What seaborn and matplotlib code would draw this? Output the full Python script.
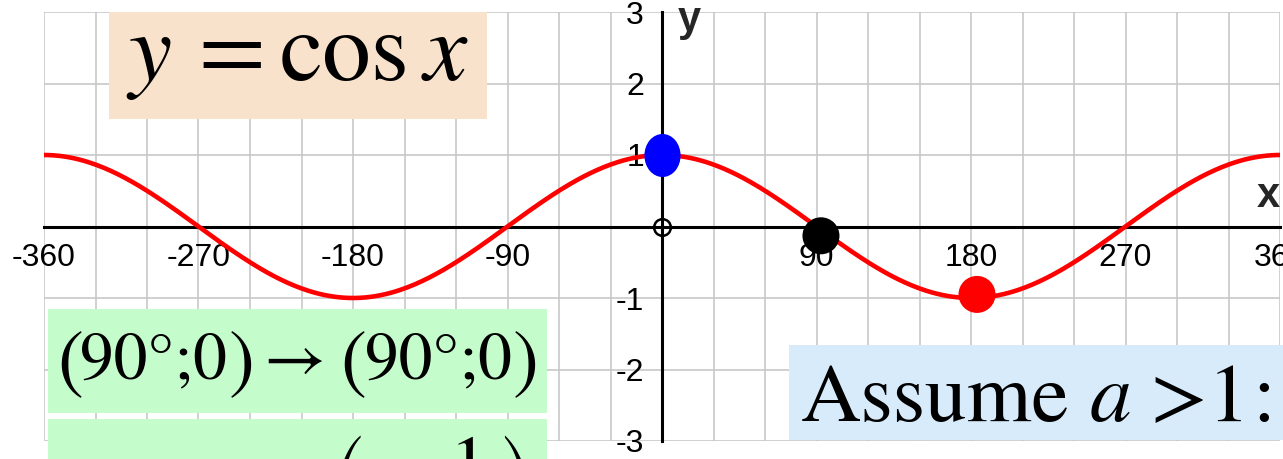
import numpy as np
import pandas as pd
import matplotlib
matplotlib.use("Agg")
import matplotlib.pyplot as plt
import seaborn as sns
from matplotlib.markers import MarkerStyle
from matplotlib.transforms import Affine2D
from matplotlib.patches import Rectangle

# ---- data ----
x_ticks = list(range(-360, 361, 30))
x_tick_labels = ["-360", "", "", "-270", "", "", "-180", "", "", "-90", "", "", "",
                 "", "", "90", "", "", "180", "", "", "270", "", "", "360"]
y_ticks = [-3, -2, -1, 0, 1, 2, 3]
y_tick_labels = ["-3", "-2", "-1", "", "1", "2", "3"]

# graph of y = cos x (degrees)
curve_x = np.linspace(-360, 360, 721)
curve_y = np.cos(np.radians(curve_x))

# highlighted points
blue_x, blue_y = [0], [1.0]
dot_x = [92.6, 183.5]
dot_y = [-0.13, -0.95]
dot_colors = ["black", "red"]

point_text = "90°;0"
box2_left = "(0°;1)→"
box2_right = r"$\left(0^{\circ}{;}\!\dfrac{1}{a}\right)$"

# ---- style ----
sns.set_theme(style="whitegrid")
plt.rcParams["font.family"] = ["Liberation Sans", "DejaVu Sans"]
plt.rcParams["mathtext.fontset"] = "stix"
SERIF = ["STIXGeneral", "DejaVu Serif"]

W, H = 1283, 459
fig = plt.figure(figsize=(W / 100, H / 100), dpi=100)
ax = fig.add_axes([44 / W, 18 / H, 1236 / W, 429 / H])
ax.set_facecolor("white")

ax.set_xlim(-360, 360)
ax.set_ylim(-3, 3)
ax.set_xticks(x_ticks)
ax.set_xticklabels(x_tick_labels)
ax.set_yticks(y_ticks)
ax.set_yticklabels(y_tick_labels)

ax.grid(True, color="#c8c8c8", linewidth=1.2)
for gl in ax.get_xgridlines() + ax.get_ygridlines():
    gl.set_clip_on(False)

for s in ["top", "right"]:
    ax.spines[s].set_visible(False)
for s in ["left", "bottom"]:
    ax.spines[s].set_position("zero")
    ax.spines[s].set_color("black")
    ax.spines[s].set_linewidth(2.2)
    ax.spines[s].set_zorder(2.5)

ax.tick_params(axis="x", direction="in", length=4, width=1.8, color="black",
               pad=12, labelsize=23, labelcolor="black")
ax.tick_params(axis="y", direction="in", length=1.5, width=1.8, color="black",
               pad=13, labelsize=23, labelcolor="black")

# curve
sns.lineplot(x=curve_x, y=curve_y, color="red", linewidth=3.3, ax=ax, zorder=3)

# origin marker
ax.plot([0], [0], marker="o", ms=12, mfc="none", mec="black", mew=1.8, zorder=4)

# points
sns.scatterplot(x=dot_x, y=dot_y, hue=dot_colors, palette={"black": "black", "red": "red"},
                s=710, linewidth=0, legend=False, ax=ax, zorder=5)
ell = MarkerStyle("o", transform=Affine2D().scale(0.84, 1.0))
sns.scatterplot(x=blue_x, y=blue_y, color="blue", marker=ell, s=961, linewidth=0,
                legend=False, ax=ax, zorder=5)

# axis labels
ax.set_xlabel("x", fontsize=30, fontweight="bold", ha="center", va="center")
ax.xaxis.set_label_coords((1268 - 44) / 1236, (441 - 196) / 429)
ax.set_ylabel("y", fontsize=30, fontweight="bold", rotation=0, ha="center", va="center")
ax.yaxis.set_label_coords((689 - 44) / 1236, (441 - 20) / 429)

# ---- annotation boxes ----
def box(x0, y0, x1, y1, color):
    fig.patches.append(Rectangle((x0 / W, 1 - y1 / H), (x1 - x0) / W, (y1 - y0) / H,
                                 transform=fig.transFigure, facecolor=color,
                                 edgecolor="none", zorder=6))

def put(px, py, s, fs, ha="left", va="baseline", style="normal", serif=True):
    kw = dict(fontsize=fs, ha=ha, va=va, color="black", zorder=7, fontstyle=style)
    if serif:
        kw["family"] = SERIF
    return fig.text(px / W, 1 - py / H, s, **kw)

box(109, 12, 487, 119, "#f9e2cb")
box(48, 309, 547, 413, "#c5fccb")
box(48, 419, 547, 480, "#c5fccb")
box(789, 345, 1300, 440, "#d7ebfb")

# title: y = cos x
TS = 70
put(128, 80, "y", TS, style="italic")
put(198, 80, "=", TS)
put(280, 80, "cos", TS)
put(424, 80, "x", TS, style="italic")

# box 1: (90°;0) -> (90°;0) with tall parentheses
BIG, NORM = 56, 48.5
put(57, 384, "(", BIG)
put(80, 378, point_text, NORM)
put(229, 384, ")", BIG)
put(263, 378, "→", NORM)
put(340, 384, "(", BIG)
put(365, 378, point_text, NORM)
put(513, 384, ")", BIG)

# box 2 (mostly cut by the bottom edge)
put(325, 512, box2_left, NORM, ha="right")
put(528, 433, box2_right, 55, ha="right", va="top", serif=False)

# Assume a > 1:
AS = 60
put(801, 421, "Assume", AS)
put(1090, 421, "a", AS, style="italic")
put(1150, 421, ">", AS)
put(1208, 421, "1", AS)
put(1252, 421, ":", AS)

fig.savefig("out.png", dpi=100)
